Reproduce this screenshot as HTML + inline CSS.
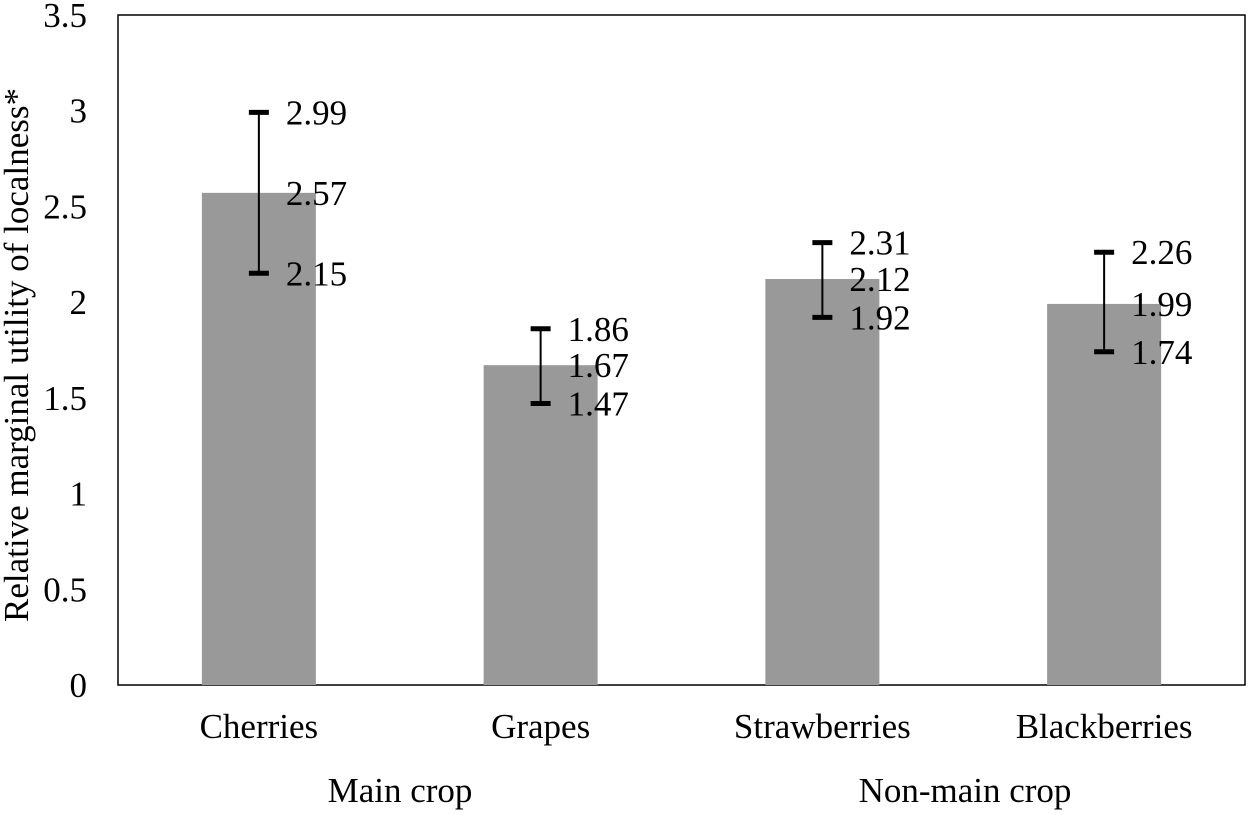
<!DOCTYPE html>
<html><head><meta charset="utf-8"><style>
body{margin:0;background:#fff}
svg text{font-family:"Liberation Serif",serif;fill:#000}
</style></head><body>
<svg width="1250" height="810" xmlns="http://www.w3.org/2000/svg">
<rect x="118" y="15" width="1127" height="670" fill="none" stroke="#000" stroke-width="1.5"/>
<g id="ticks"></g><g id="bars"></g>
<text x="400" y="802" font-size="35" text-anchor="middle">Main crop</text>
<text x="965" y="802" font-size="35" text-anchor="middle">Non-main crop</text>
<text transform="translate(28,355) rotate(-90)" font-size="35" text-anchor="middle">Relative marginal utility of localness*</text>
</svg>
<script>
const categories=["Cherries","Grapes","Strawberries","Blackberries"];
const means=[2.57,1.67,2.12,1.99];
const uppers=[2.99,1.86,2.31,2.26];
const lowers=[2.15,1.47,1.92,1.74];
const yTicks=[0,0.5,1,1.5,2,2.5,3,3.5];
const NS="http://www.w3.org/2000/svg";
const x0=118,plotW=1127,y0=685,unit=191.5;
const y=v=>y0-v*unit;
const xc=i=>x0+plotW/categories.length*(i+0.5);
function mk(t,a,p,txt){const e=document.createElementNS(NS,t);for(const k in a)e.setAttribute(k,a[k]);if(txt!==undefined)e.textContent=txt;p.appendChild(e);return e;}
const tg=document.getElementById('ticks');
yTicks.forEach(v=>{const e=mk('text',{x:87,y:y(v)+12,'font-size':35,'text-anchor':'end'},tg,String(v));

});
const bg=document.getElementById('bars');
categories.forEach((c,i)=>{const cx=xc(i);
const b=mk('rect',{x:cx-57,y:y(means[i]),width:114,height:y0-y(means[i]),fill:'#999999'},bg);


const l=mk('line',{x1:cx,x2:cx,y1:y(uppers[i]),y2:y(lowers[i]),stroke:'#000','stroke-width':2},bg);


[uppers[i],lowers[i]].forEach(v=>{const cp=mk('line',{x1:cx-10,x2:cx+10,y1:y(v),y2:y(v),stroke:'#000','stroke-width':5},bg);

});
[[uppers[i],'upper'],[means[i],'mean'],[lowers[i],'lower']].forEach(([v,n])=>{const t=mk('text',{x:cx+27,y:y(v)+12,'font-size':35},bg,v.toFixed(2));

});
const cl=mk('text',{x:cx,y:738,'font-size':35,'text-anchor':'middle'},bg,c);


});
</script>
</body></html>
